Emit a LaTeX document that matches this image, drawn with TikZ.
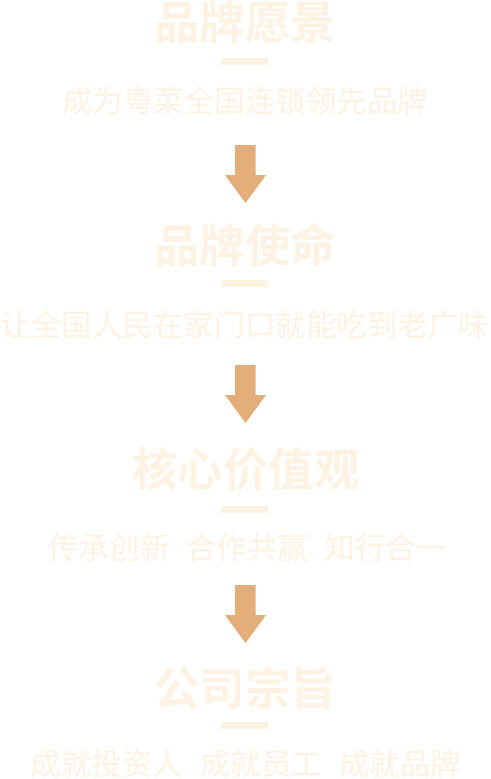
\documentclass[tikz,border=0pt]{standalone}
\usepackage{fontspec}
\newfontfamily\cjk{Noto Sans CJK SC}
\newfontfamily\cjkb{Noto Sans CJK SC Bold}
\definecolor{cream}{HTML}{FEF3E3}
\definecolor{tan}{HTML}{E4AE7A}
\begin{document}
\begin{tikzpicture}[x=1pt,y=-1pt,
  titletext/.style={inner sep=0pt,text=cream,font=\cjkb\fontsize{45.5}{46}\selectfont},
  subtext/.style={inner sep=0pt,text=cream,font=\cjk\fontsize{30.5}{31}\selectfont},
  barline/.style={fill=cream,draw=none},
  downarrow/.style={fill=tan,draw=none}]
\fill[white] (0,0) rectangle (490,779);
\useasboundingbox (0,0) rectangle (490,779);
% section 1
\node[titletext] (t1) at (245,22) {品牌愿景};
\fill[barline] (222,58) rectangle (268,64.5);
\node[subtext] (s1) at (245,101) {成为粤菜全国连锁领先品牌};
% section 2
\node[titletext] (t2) at (245,245) {品牌使命};
\fill[barline] (222,280) rectangle (268,286.5);
\node[subtext] (s2) at (245,325) {让全国人民在家门口就能吃到老广味};
% section 3
\node[titletext] (t3) at (246,469) {核心价值观};
\fill[barline] (222,506) rectangle (268,512.5);
\node[subtext] (s3) at (247.5,548) {传承创新\hspace{0.54em}合作共赢\hspace{0.54em}知行合一};
% section 4
\node[titletext] (t4) at (245,688) {公司宗旨};
\fill[barline] (222,722) rectangle (268,728.5);
\node[subtext] (s4) at (246,764) {成就投资人\hspace{0.55em}成就员工\hspace{0.55em}成就品牌};
% arrows
\foreach \y in {145,365,585}{
  \fill[downarrow] (235,\y) -- (255.5,\y) -- (255.5,\y+30) -- (266,\y+30)
     -- (245.5,\y+58) -- (225,\y+30) -- (235,\y+30) -- cycle;
}
\end{tikzpicture}
\end{document}
